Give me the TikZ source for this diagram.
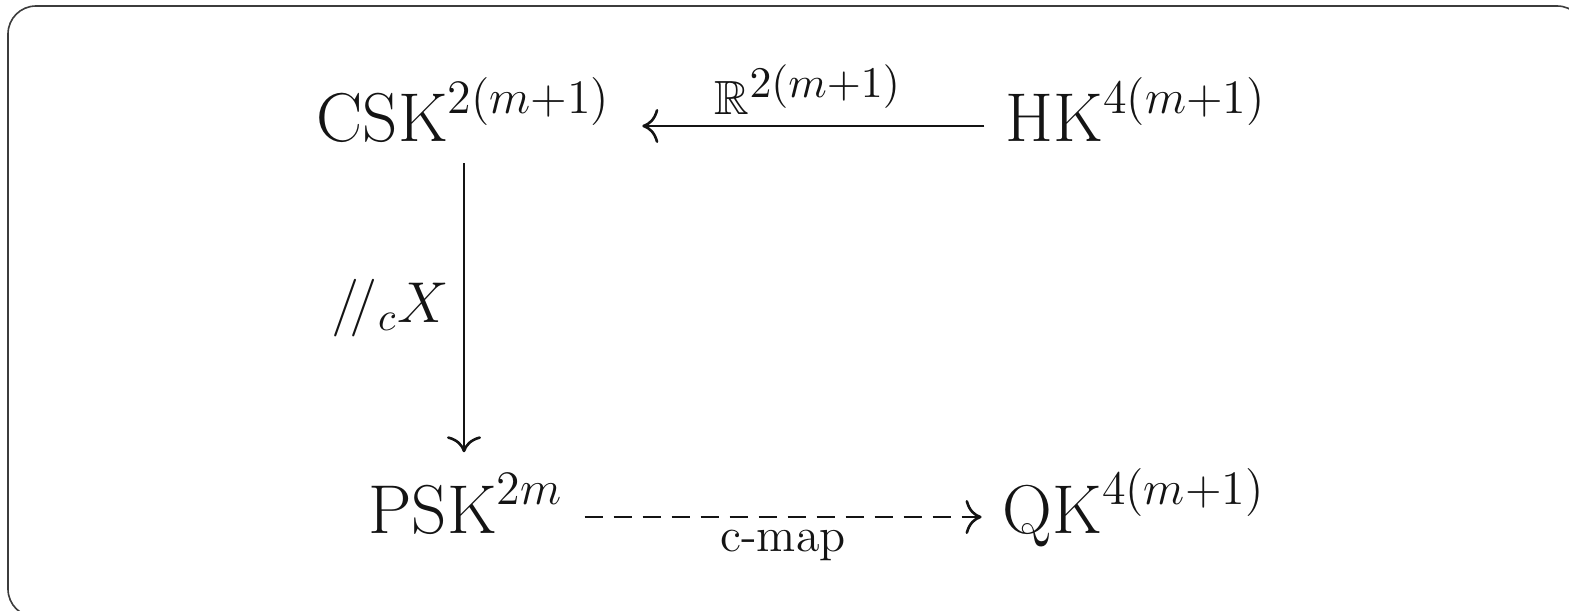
\documentclass[tikz,border=0pt]{standalone}
\usepackage{amssymb}
\usetikzlibrary{arrows.meta,positioning,calc}
\definecolor{ink}{RGB}{20,20,20}
\definecolor{edge}{RGB}{60,60,60}
\newcommand{\suplbl}[1]{^{\hbox{\fontsize{10.6}{12}\selectfont$#1$}}}
\tikzset{
  every picture/.style={color=ink, line width=0.55pt},
  obj/.style={inner sep=5pt, anchor=base, font=\fontsize{17.9}{21}\selectfont},
  map/.style={-{Computer Modern Rightarrow[length=4pt,width=8.5pt]}, line width=0.65pt},
  dmap/.style={map, dash pattern=on 4.5pt off 2.75pt},
  lbl/.style={font=\large, inner sep=3pt},
  frame/.style={draw=edge, line width=0.4pt, rounded corners=7pt},
}

\begin{document}
\begin{tikzpicture}
  \useasboundingbox (0,0) rectangle (392.25pt,152.5pt);
  \draw[frame] (2pt,-1.75pt) rectangle (396.25pt,151pt);

  % the four spaces
  \node[obj] (csk) at (116pt,117pt) {$\mathrm{CSK}^{2(m+1)}$};
  \node[obj] (hk)  at (284pt,117pt) {$\mathrm{HK}^{4(m+1)}$};
  \node[obj] (psk) at (116.5pt,19.25pt) {$\mathrm{PSK}^{2m}$};
  \node[obj] (qk)  at (283.5pt,19.25pt) {$\mathrm{QK}^{4(m+1)}$};

  % maps
  \draw[map, shorten >=2.5pt] ([yshift=4pt]hk.base west) -- ([yshift=4pt]csk.base east)
    node[lbl, midway, above, inner sep=2.5pt] (rlbl) {$\mathbb{R}\suplbl{2(m{+}1)}$};
  \draw[map] (csk.south) -- (csk.south |- psk.north)
    node[lbl, midway, left, font=\Large, inner sep=3.5pt] (xlbl) {$/\!/_{c}X$};
  \draw[dmap] ([yshift=4pt]psk.base east) -- ([yshift=4pt]qk.base west)
    node[lbl, midway, below] (clbl) {c-map};
\end{tikzpicture}
\end{document}
